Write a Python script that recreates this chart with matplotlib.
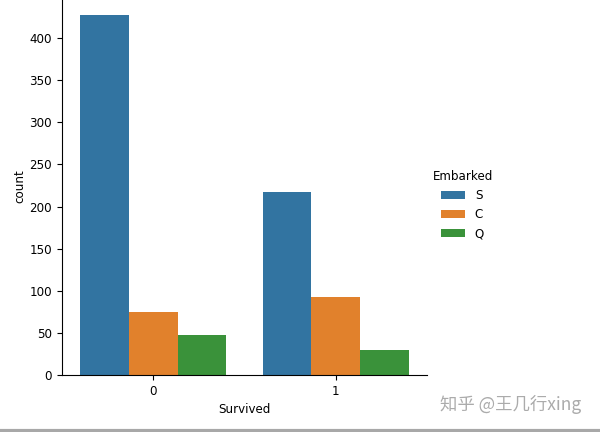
import matplotlib
matplotlib.use("Agg")
import matplotlib.pyplot as plt
import pandas as pd
import seaborn as sns

# Titanic counts by Survived / Embarked
survived = ["0", "0", "0", "1", "1", "1"]
embarked = ["S", "C", "Q", "S", "C", "Q"]
counts = [427, 75, 47, 217, 93, 30]

df = pd.DataFrame({"Survived": survived, "Embarked": embarked, "count": counts})

plt.rcParams["font.size"] = 8.6

fig = plt.figure(figsize=(6, 4.32), dpi=100)
ax = fig.add_axes([0.103, 0.132, 0.609, 0.874])

sns.barplot(data=df, x="Survived", y="count", hue="Embarked",
            hue_order=["S", "C", "Q"], errorbar=None, saturation=0.75, ax=ax)
ax.set_ylim(0, 448.35)
ax.set_xlim(-0.5, 1.5)
ax.spines["top"].set_visible(False)
ax.spines["right"].set_visible(False)
ax.tick_params(labelsize=8.6)
ax.yaxis.labelpad = 2

ax.legend_.remove()
handles, labels = ax.get_legend_handles_labels()
fig.legend(handles, labels, title="Embarked", loc="center left",
           bbox_to_anchor=(0.703, 0.525), frameon=False, fontsize=8.6,
           title_fontsize=8.6)

# watermark + bottom rule from the screenshot
fig.text(0.733, 0.064, "知乎 @王几行xing", color="#ababab", fontsize=12.5,
         family=["Noto Sans CJK SC", "DejaVu Sans"], va="center")
fig.add_artist(plt.Line2D([0, 1], [0.003, 0.003], color="#a8a8a8", linewidth=3,
                          transform=fig.transFigure))

fig.savefig("out.png", dpi=100)
